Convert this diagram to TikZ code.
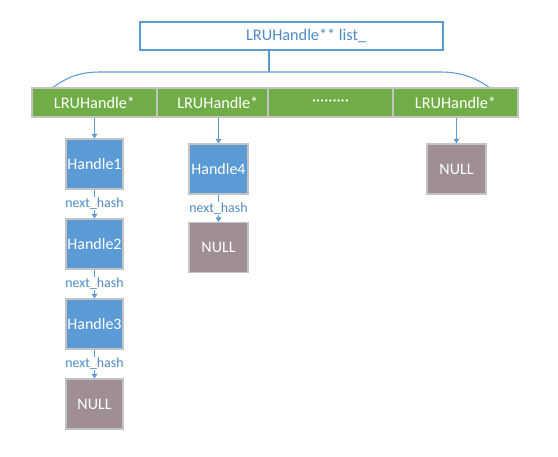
\documentclass[tikz,border=0pt]{standalone}
\usepackage{fontspec}
\setmainfont{Carlito}
\usetikzlibrary{arrows.meta}
\definecolor{cblue}{HTML}{5B9BD5}
\definecolor{cgreen}{HTML}{70AD47}
\definecolor{cnull}{HTML}{A08E96}
\definecolor{cedge}{HTML}{C3C3C3}
\definecolor{ctext}{HTML}{4E8AC8}
\begin{document}
\begin{tikzpicture}[x=0.75pt,y=-0.75pt,
  cell/.style={draw=cedge,line width=1.2pt,fill=cgreen,text=white,minimum height=29*0.75pt,inner sep=0pt,font=\fontsize{12.2}{14}\selectfont},
  handlebox/.style={draw=cedge,line width=0.9pt,fill=cblue,text=white,minimum width=57*0.75pt,minimum height=50*0.75pt,inner sep=0pt,font=\fontsize{12}{14}\selectfont},
  nullbox/.style={handlebox,fill=cnull,minimum width=59*0.75pt},
  lbl/.style={text=ctext,inner sep=0.5pt,font=\fontsize{10.4}{12}\selectfont},
  conn/.style={draw=cblue,line width=0.8pt},
  arr/.style={conn,-{Triangle[width=5.5*0.75pt,length=4.5*0.75pt]}}
]
\useasboundingbox[fill=white] (0,0) rectangle (558,457);
% top box
\node[draw=cblue,line width=0.8pt,minimum width=303*0.75pt,minimum height=28*0.75pt,inner sep=0pt,text=ctext,font=\fontsize{12.2}{14}\selectfont] (top) at (291.5,36) {\hspace{22pt}LRUHandle** list\_};
% bus
\coordinate (bus) at (269,72);
\coordinate (bl) at (52,88);
\coordinate (br) at (490,88);
\draw[conn] (top.south -| bus) -- (bus);
\draw[conn] (bl) .. controls (66,78) and (78,72) .. (100,72) -- (440,72) .. controls (462,72) and (476,78) .. (br);
% green cells
\node[cell,minimum width=125*0.75pt] (c1) at (94.5,102.5) {LRUHandle*};
\node[cell,minimum width=111*0.75pt] (c2) at (212.5,102.5) {\hspace{8pt}LRUHandle*};
\node[cell,minimum width=125*0.75pt] (c3) at (330.5,102.5) {\raisebox{0.5pt}{·········}};
\node[cell,minimum width=125*0.75pt] (c4) at (455.5,102.5) {LRUHandle*};
% column 1
\node[handlebox] (h1) at (94.5,164) {Handle1};
\node[handlebox] (h2) at (94.5,244) {Handle2};
\node[handlebox] (h3) at (94.5,324) {Handle3};
\node[nullbox,minimum width=57*0.75pt] (n1) at (94.5,404) {NULL};
\node[lbl] (l1) at (94.5,203.5) {next\_hash};
\node[lbl] (l2) at (94.5,283.5) {next\_hash};
\node[lbl] (l3) at (94.5,363.5) {next\_hash};
\draw[arr] (c1.south) -- (h1.north);
\draw[conn] (h1) -- (l1);
\draw[arr] (l1) -- (h2);
\draw[conn] (h2) -- (l2);
\draw[arr] (l2) -- (h3);
\draw[conn] (h3) -- (l3);
\draw[arr] (l3) -- (n1);
% column 2
\node[handlebox,minimum width=59*0.75pt] (h4) at (218.5,169) {Handle4};
\node[nullbox] (n2) at (218.5,247.5) {NULL};
\node[lbl] (l4) at (218.5,208.5) {next\_hash};
\draw[arr] (c2.south -| h4) -- (h4.north);
\draw[conn] (h4) -- (l4);
\draw[arr] (l4) -- (n2);
% column 4
\node[nullbox] (n3) at (456.5,169) {NULL};
\draw[arr] (c4.south -| n3) -- (n3.north);
\end{tikzpicture}
\end{document}
